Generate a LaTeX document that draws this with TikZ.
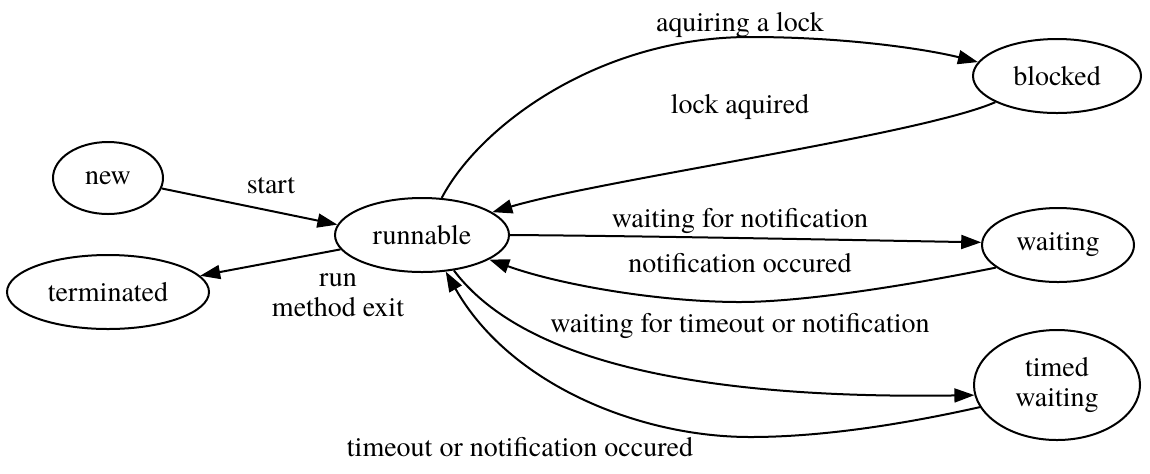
\documentclass[tikz,border=0pt]{standalone}
\usepackage{fontspec}
\setmainfont{TeX Gyre Termes}
\usetikzlibrary{arrows.meta,shapes.geometric}
\begin{document}
\begin{tikzpicture}[x=0.5pt,y=-0.5pt,
  state/.style={ellipse,draw,line width=1pt,inner sep=0pt,minimum height=36pt,
    font=\fontsize{14}{15}\selectfont,align=center},
  lbl/.style={font=\fontsize{14}{15}\selectfont,align=center,inner sep=0pt},
  edge/.style={draw,line width=1pt,-{Triangle[length=10pt,width=7pt]}}]
\useasboundingbox (0,0) rectangle (1150,473);
% states
\node[state,minimum width=55pt] (new) at (108,178) {new};
\node[state,minimum width=101pt,minimum height=37pt] (terminated) at (108,292) {terminated};
\node[state,minimum width=87pt,minimum height=37pt] (runnable) at (422,235) {runnable};
\node[state,minimum width=84pt,minimum height=37pt] (blocked) at (1057,76) {blocked};
\node[state,minimum width=76pt,minimum height=37pt] (waiting) at (1058,245) {waiting};
\node[state,minimum width=83pt,minimum height=55pt] (timed) at (1057,385) {timed\\waiting};
% edges
\draw[edge] (new.-11) -- (runnable.173);
\draw[edge] (runnable.190) -- (terminated.10);
\draw[edge] (runnable.62) .. controls (480,125) and (600,37) .. (750,37)
  .. controls (850,37) and (930,50) .. (blocked.170);
\draw[edge] (blocked.203) .. controls (920,135) and (600,180) .. (runnable.18);
\draw[edge] (runnable.0) .. controls (650,236) and (850,240) .. (waiting.178);
\draw[edge] (waiting.200) .. controls (900,287) and (800,302) .. (740,302)
  .. controls (660,302) and (560,285) .. (runnable.-20);
\draw[edge] (runnable.-48) .. controls (510,345) and (650,400) .. (timed.187);
\draw[edge] (timed.196) .. controls (900,425) and (820,437) .. (750,437)
  .. controls (640,437) and (510,385) .. (runnable.-57);
% labels
\node[lbl] (lstart) at (271,186) {start};
\node[lbl] (lrun) at (338,295) {run\\method exit};
\node[lbl] (lacq) at (740,25) {aquiring a lock};
\node[lbl] (llock) at (740,107) {lock aquired};
\node[lbl] (lwn) at (740,221) {waiting for notification};
\node[lbl] (lno) at (740,263) {notification occured};
\node[lbl] (lwt) at (740,326) {waiting for timeout or notification};
\node[lbl] (lto) at (520,447) {timeout or notification occured};
\end{tikzpicture}
\end{document}
